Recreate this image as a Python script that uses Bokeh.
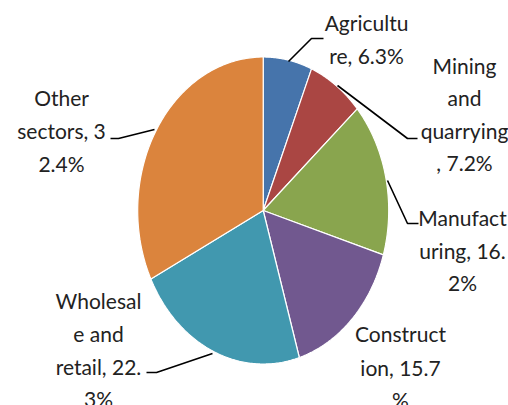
import numpy as np
from bokeh.plotting import figure
from bokeh.models import Range1d, ColumnDataSource
from bokeh.embed import file_html
from bokeh.resources import INLINE
from bokeh.core.properties import value

# ---------------- data ----------------
sectors = ["Agriculture", "Mining and quarrying", "Manufacturing",
           "Construction", "Wholesale and retail", "Other sectors"]
shares = [6.3, 7.2, 16.2, 15.7, 22.3, 32.4]
label_lines = [
    ["Agricultu", "re, 6.3%"],
    ["Mining", "and", "quarrying", ", 7.2%"],
    ["Manufact", "uring, 16.", "2%"],
    ["Construct", "ion, 15.7", "%"],
    ["Wholesal", "e and", "retail, 22.", "3%"],
    ["Other", "sectors, 3", "2.4%"],
]

# ---------------- styles / layout ----------------
colors = ["#4674AB", "#AA4643", "#89A54E", "#71588F", "#4198AF", "#DB843D"]
W, H = 508, 405
OX, OY = 0, 0          # where the figure sits on the page
CX, CY, RX, RY = 262.7, 210.0, 125.5, 153.5   # pie centre / radii in page px

# label anchor (page px): centre x, line centre ys
label_x = [366, 464, 462, 400, 98, 61]
label_ys = [[22, 55], [65, 97, 130, 162], [217, 250, 282],
            [333, 367, 399], [300, 333, 366, 398], [97, 130, 163]]
leaders = [
    [(323, 38), (311, 38), (288, 61)],
    [(417, 138), (407, 138), (337, 85)],
    [(418, 223), (407, 223), (387, 180)],
    None,
    [(146, 372), (156, 372), (212, 353)],
    [(110, 138), (118, 138), (154, 129)],
]

def px(x):
    return (x - CX) / RX

def py(y):
    return (CY - y) / RY

p = figure(width=W, height=H, output_backend="svg", toolbar_location=None,
           x_range=Range1d(px(OX), px(OX + W)), y_range=Range1d(py(OY + H), py(OY)),
           min_border=0, x_axis_location=None, y_axis_location=None)
p.grid.visible = False
p.outline_line_color = None
p.background_fill_color = "white"
p.border_fill_color = "white"

# pie slices (unit circle in data space; axis scales make it elliptical on screen)
vals = np.array(shares, dtype=float)
frac = vals / vals.sum()
ends = np.cumsum(frac) * 2 * np.pi
starts = ends - frac * 2 * np.pi
xs, ys = [], []
for a0, a1 in zip(starts, ends):
    t = np.linspace(a0, a1, 120)
    xs.append([0.0] + list(np.sin(t)))
    ys.append([0.0] + list(np.cos(t)))
src = ColumnDataSource(dict(xs=xs, ys=ys, color=colors, sector=sectors))
p.patches("xs", "ys", source=src, fill_color="color", line_color="white", line_width=1.2)

# leader lines
lx, ly = [], []
for ld in leaders:
    if ld is None:
        continue
    lx.append([px(a) for a, b in ld])
    ly.append([py(b) for a, b in ld])
p.multi_line(lx, ly, line_color="black", line_width=1.6)

# labels
tx, ty, tt = [], [], []
for x0, yl, lines in zip(label_x, label_ys, label_lines):
    for yy, s in zip(yl, lines):
        tx.append(px(x0))
        ty.append(py(yy))
        tt.append(s)
p.text(tx, ty, text=tt, text_align="center", text_baseline="middle",
       text_font=value("Lato"), text_font_size="21px", text_color="#222222")

open("out.html", "w").write(file_html(p, INLINE))
